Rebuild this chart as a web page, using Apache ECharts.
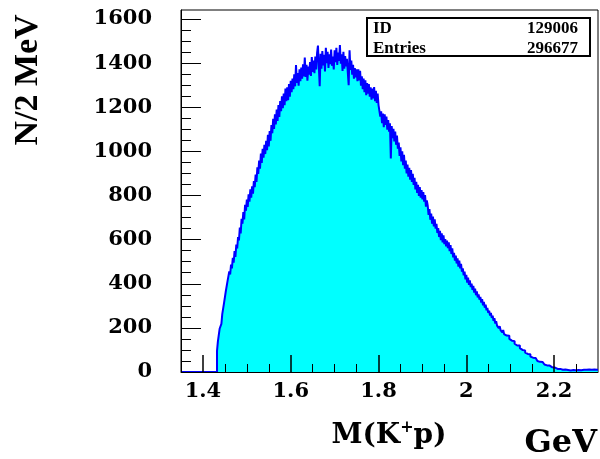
<!DOCTYPE html>
<html>
<head>
<meta charset="utf-8">
<script src="https://cdn.jsdelivr.net/npm/echarts@6/dist/echarts.min.js"></script>
<style>
html,body{margin:0;padding:0;background:#fff;}
#chart{width:600px;height:459px;}
</style>
</head>
<body>
<div id="chart"></div>
<script>
// ---- data ----
const histMin = 1.35;
const histMax = 2.30;
const binStart = 1.432;   // first filled bin (threshold)
const binWidth = 0.002;   // 2 MeV bins
const counts = [
  95, 138, 142, 196, 202,
  218, 262, 268, 312, 318,
  365, 358, 412, 405, 456,
  442, 487, 470, 518, 496,
  548, 522, 578, 560, 612,
  596, 655, 628, 694, 672,
  725, 692, 758, 731, 782,
  748, 806, 772, 828, 790,
  842, 808, 866, 838, 895,
  862, 928, 898, 958, 922,
  990, 948, 1012, 972, 1030,
  988, 1048, 1006, 1075, 1022,
  1092, 1048, 1120, 1082, 1148,
  1102, 1168, 1122, 1190, 1138,
  1210, 1156, 1228, 1182, 1250,
  1196, 1262, 1210, 1285, 1228,
  1290, 1232, 1305, 1248, 1320,
  1268, 1330, 1282, 1350, 1295,
  1392, 1310, 1355, 1298, 1372,
  1318, 1380, 1330, 1395, 1340,
  1425, 1338, 1392, 1320, 1385,
  1348, 1405, 1342, 1428, 1360,
  1412, 1355, 1430, 1372, 1445,
  1480, 1385, 1295, 1442, 1375,
  1455, 1390, 1438, 1362, 1470,
  1400, 1452, 1378, 1440, 1395,
  1462, 1388, 1430, 1372, 1458,
  1405, 1470, 1392, 1448, 1410,
  1482, 1398, 1440, 1365, 1452,
  1375, 1432, 1385, 1420, 1358,
  1300, 1458, 1370, 1412, 1348,
  1392, 1330, 1378, 1335, 1372,
  1318, 1372, 1322, 1365, 1298,
  1340, 1282, 1330, 1268, 1322,
  1255, 1310, 1262, 1305, 1248,
  1290, 1235, 1285, 1240, 1292,
  1228, 1275, 1220, 1262, 1210,
  1215, 1158, 1182, 1128, 1172,
  1110, 1168, 1120, 1158, 1098,
  1142, 1090, 1128, 968, 1115,
  1060, 1102, 1045, 1090, 1030,
  1072, 1012, 1040, 980, 1018,
  955, 1000, 938, 985, 922,
  958, 900, 940, 885, 925,
  872, 915, 862, 898, 848,
  880, 828, 862, 812, 848,
  798, 838, 790, 825, 782,
  815, 772, 802, 750, 778,
  755, 712, 738, 690, 718,
  672, 705, 660, 692, 650,
  672, 630, 652, 612, 640,
  598, 628, 588, 620, 580,
  602, 570, 595, 562, 588,
  548, 575, 535, 560, 520,
  540, 505, 528, 492, 515,
  478, 505, 470, 490, 455,
  470, 438, 455, 420, 440,
  405, 428, 395, 415, 385,
  400, 372, 390, 360, 378,
  348, 365, 338, 352, 328,
  340, 315, 330, 302, 318,
  292, 305, 280, 290, 268,
  278, 256, 268, 245, 255,
  232, 244, 220, 230, 210,
  218, 198, 208, 190, 198,
  180, 190, 172, 180, 165,
  172, 158, 164, 150, 156,
  142, 148, 135, 140, 128,
  134, 120, 127, 114, 120,
  108, 113, 100, 104, 94,
  98, 88, 93, 82, 86,
  76, 81, 70, 74, 65,
  68, 60, 63, 55, 58,
  50, 55, 46, 49, 42,
  45, 38, 41, 34, 37,
  30, 34, 27, 29, 24,
  26, 21, 23, 18, 20,
  16, 19, 14, 16, 13,
  14, 11, 13, 10, 12,
  9, 11, 8, 10, 9,
  8, 10, 7, 9, 8,
  9, 7, 10, 8, 9,
  7, 9, 8, 10, 8,
  9, 8, 10, 9, 8,
  10, 8, 9, 11, 9,
  9, 10, 8, 10, 11,
  9, 11, 10, 10
];
const xMajorTicks = [1.4, 1.6, 1.8, 2, 2.2];
const xMinorTicks = [1.45, 1.5, 1.55, 1.65, 1.7, 1.75, 1.85, 1.9, 1.95, 2.05, 2.1, 2.15, 2.25];
const yMajorTicks = [0, 200, 400, 600, 800, 1000, 1200, 1400, 1600];
const yMinorTicks = [50, 100, 150, 250, 300, 350, 450, 500, 550, 650, 700, 750, 850, 900, 950,
  1050, 1100, 1150, 1250, 1300, 1350, 1450, 1500, 1550];
const yMax = 1641;
const statsRows = [["ID", "129006"], ["Entries", "296677"]];
const xUnit = "GeV";
const yTitle = "N/2 MeV";

// ---- build step data ----
const stepData = [[histMin, 0]];
for (let k = 0; k < counts.length; k++) {
  stepData.push([Math.round((binStart + binWidth * k) * 1000) / 1000, counts[k]]);
}
stepData.push([histMax, counts[counts.length - 1]]);

const chart = echarts.init(document.getElementById('chart'), null, {renderer: 'canvas'});
const gridL = 181, gridT = 10, gridR = 2, gridB = 87;
const plain = v => String(v);

chart.setOption({
  animation: false,
  backgroundColor: '#fff',
  grid: {left: gridL, top: gridT, right: gridR, bottom: gridB, show: true,
         borderColor: '#000', borderWidth: 1, backgroundColor: 'transparent'},
  xAxis: [{
    type: 'value', min: histMin, max: histMax, z: 10,
    axisLine: {show: true, lineStyle: {color: '#000', width: 1}},
    axisTick: {show: true, inside: true, length: 17, customValues: xMajorTicks,
               lineStyle: {color: '#000', width: 1.5}},
    axisLabel: {show: true, customValues: xMajorTicks, margin: 9, formatter: plain,
                fontFamily: 'DejaVu Serif', fontWeight: 'bold', fontSize: 21, color: '#000'},
    splitLine: {show: false}
  }, {
    type: 'value', min: histMin, max: histMax, z: 10, position: 'bottom',
    axisLine: {show: false},
    axisTick: {show: true, inside: true, length: 8, customValues: xMinorTicks,
               lineStyle: {color: '#000', width: 1}},
    axisLabel: {show: false},
    splitLine: {show: false}
  }],
  yAxis: [{
    type: 'value', min: 0, max: yMax, z: 10,
    axisLine: {show: true, lineStyle: {color: '#000', width: 1}},
    axisTick: {show: true, inside: true, length: 20, customValues: yMajorTicks,
               lineStyle: {color: '#000', width: 1}},
    axisLabel: {show: true, customValues: yMajorTicks, margin: 29, formatter: plain,
                fontFamily: 'DejaVu Serif', fontWeight: 'bold', fontSize: 21, color: '#000'},
    splitLine: {show: false}
  }, {
    type: 'value', min: 0, max: yMax, z: 10, position: 'left',
    axisLine: {show: false},
    axisTick: {show: true, inside: true, length: 10, customValues: yMinorTicks,
               lineStyle: {color: '#000', width: 1}},
    axisLabel: {show: false},
    splitLine: {show: false}
  }],
  series: [{
    type: 'line', xAxisIndex: 0, yAxisIndex: 0,
    data: stepData, step: 'end', symbol: 'none', silent: true,
    lineStyle: {color: '#0000ff', width: 2},
    areaStyle: {color: '#00ffff', opacity: 1},
    z: 2
  }],
  graphic: [
    {type: 'rect', shape: {x: 367, y: 18, width: 223, height: 38},
     style: {fill: '#fff', stroke: '#000', lineWidth: 2}, z: 20},
    {type: 'text', x: 373, y: 29, z: 21,
     style: {text: statsRows[0][0], font: 'bold 17px "Liberation Serif"', fill: '#000',
             textAlign: 'left', textVerticalAlign: 'middle'}},
    {type: 'text', x: 578, y: 29, z: 21,
     style: {text: statsRows[0][1], font: 'bold 17px "Liberation Serif"', fill: '#000',
             textAlign: 'right', textVerticalAlign: 'middle'}},
    {type: 'text', x: 373, y: 49, z: 21,
     style: {text: statsRows[1][0], font: 'bold 17px "Liberation Serif"', fill: '#000',
             textAlign: 'left', textVerticalAlign: 'middle'}},
    {type: 'text', x: 578, y: 49, z: 21,
     style: {text: statsRows[1][1], font: 'bold 17px "Liberation Serif"', fill: '#000',
             textAlign: 'right', textVerticalAlign: 'middle'}},
    {type: 'text', x: 389, y: 436, z: 21,
     style: {text: '{m|M(K}{s|+}{m|p)}', fill: '#000', textAlign: 'center', textVerticalAlign: 'middle',
             rich: {m: {font: 'bold 28px "DejaVu Serif"', fill: '#000', lineHeight: 32},
                    s: {font: 'bold 16px "DejaVu Serif"', fill: '#000', verticalAlign: 'top', lineHeight: 32}}}},
    {type: 'text', x: 597, y: 444, z: 21,
     style: {text: xUnit, font: 'bold 32px "DejaVu Serif"', fill: '#000',
             textAlign: 'right', textVerticalAlign: 'middle'}},
    {type: 'text', x: 28, y: 80, rotation: Math.PI / 2, z: 21,
     style: {text: yTitle, font: 'bold 34px "Liberation Serif"', fill: '#000',
             textAlign: 'center', textVerticalAlign: 'middle'}}
  ]
});
</script>
</body>
</html>
